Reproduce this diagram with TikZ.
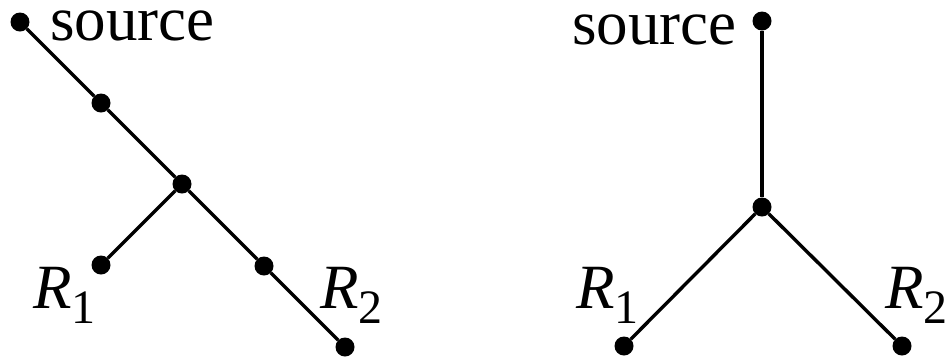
\documentclass[tikz,border=0pt]{standalone}
\usepackage{fontspec}
\setmainfont{Liberation Serif}
\newfontfamily\lblfont{Liberation Serif}
\usetikzlibrary{positioning}

\begin{document}
\begin{tikzpicture}[
    x=1pt, y=-1pt,
    dot/.style={circle, fill=black, inner sep=0pt, minimum size=19pt},
    lbl/.style={inner sep=0pt, font=\lblfont\fontsize{63}{76}\selectfont},
    edge/.style={line width=3.4pt},
]
\useasboundingbox (0,0) rectangle (950,360);
% left tree
\node[dot] (srcA) at (20,22) {};
\node[dot] (midA) at (101,103) {};
\node[dot] (brA) at (182,184) {};
\node[dot] (r1A) at (101,265) {};
\node[dot] (lowA) at (264,266) {};
\node[dot] (r2A) at (345,347) {};
\node[lbl, anchor=base west] (srcAlbl) at (50,40) {source};
\node[lbl, anchor=base west] (r1Albl) at (33,308) {\textit{R}\raisebox{-15pt}{\fontsize{48}{56}\selectfont 1}};
\node[lbl, anchor=base west] (r2Albl) at (320,308) {\textit{R}\raisebox{-15pt}{\fontsize{48}{56}\selectfont 2}};
\draw[edge] (srcA) -- (midA) -- (brA) -- (lowA) -- (r2A);
\draw[edge] (brA) -- (r1A);
% right tree
\node[dot] (srcB) at (762,21) {};
\node[dot] (brB) at (762,207) {};
\node[dot] (r1B) at (624,346) {};
\node[dot] (r2B) at (902,346) {};
\node[lbl, anchor=base east] (srcBlbl) at (737,44) {source};
\node[lbl, anchor=base west] (r1Blbl) at (576,308) {\textit{R}\raisebox{-15pt}{\fontsize{48}{56}\selectfont 1}};
\node[lbl, anchor=base west] (r2Blbl) at (885,308) {\textit{R}\raisebox{-15pt}{\fontsize{48}{56}\selectfont 2}};
\draw[edge] (srcB) -- (brB);
\draw[edge] (brB) -- (r1B);
\draw[edge] (brB) -- (r2B);
\end{tikzpicture}
\end{document}
